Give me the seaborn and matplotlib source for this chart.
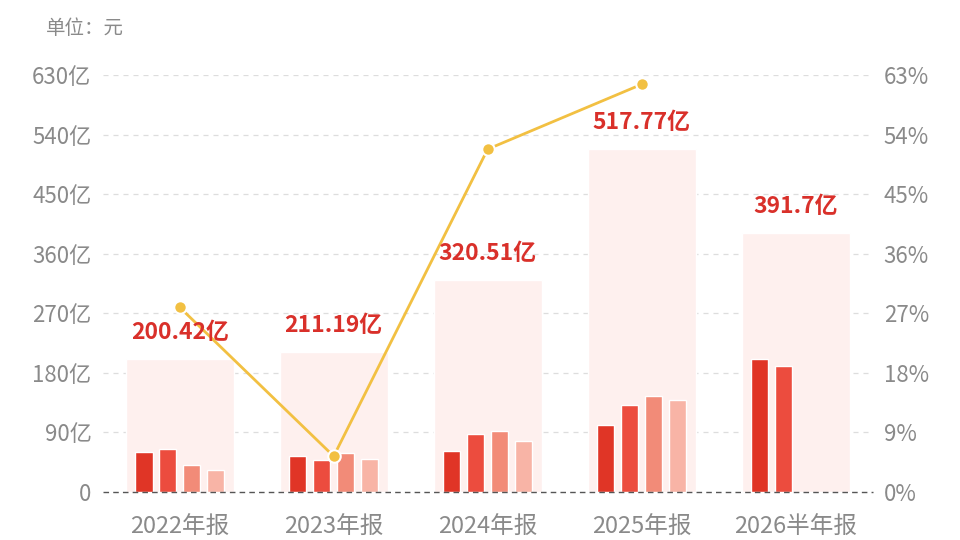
import pandas as pd
import numpy as np
import matplotlib.pyplot as plt
import seaborn as sns

# chart data (亿元 / %)
periods = ["2022年报", "2023年报", "2024年报", "2025年报", "2026半年报"]
totals = [200.42, 211.19, 320.51, 517.77, 391.7]
quarters = ["Q1", "Q2", "Q3", "Q4"]
q_values = [
    [61, 65, 41, 33],
    [54, 49, 58.5, 50],
    [62.4, 88, 92.6, 77],
    [101.7, 131, 145.5, 139],
    [200.4, 190.8, np.nan, np.nan],
]
growth_pct = [27.9, 5.4, 51.8, 61.6]
y_ticks = [0, 90, 180, 270, 360, 450, 540, 630]
pct_ticks = [0, 9, 18, 27, 36, 45, 54, 63]

sns.set_theme(style="white")
plt.rcParams['font.family'] = ['Noto Sans CJK SC', 'DejaVu Sans']

q_colors = ["#E03526", "#EC4C3E", "#F28B78", "#F8B4A6"]
grey = "#8A8A8A"
red_text = "#D9302A"
line_color = "#F2C042"

df_tot = pd.DataFrame({"period": periods, "total": totals})
rows = []
for p, vals in zip(periods, q_values):
    for q, v in zip(quarters, vals):
        rows.append({"period": p, "quarter": q, "value": v})
df_q = pd.DataFrame(rows)

fig = plt.figure(figsize=(9.6, 5.4), dpi=100)
ax = fig.add_axes([0.107, 0.089, 0.802, 0.772])

# background totals
sns.barplot(data=df_tot, x="period", y="total", color="#FEF0EE", width=0.7,
            ax=ax, zorder=1, saturation=1)
# quarterly bars
sns.barplot(data=df_q, x="period", y="value", hue="quarter", palette=q_colors,
            width=0.62, gap=0.28, ax=ax, zorder=2, saturation=1, legend=False)

ax.set_xlim(-0.5, len(periods) - 0.5)
ax.set_ylim(0, 630)
ax.set_yticks(y_ticks)
ax.set_yticklabels([f"{v}亿" if v else "0" for v in y_ticks])
ax.set_xlabel("")
ax.set_ylabel("")
for v in y_ticks[1:]:
    ax.axhline(v, color="#DDDDDD", lw=0.9, ls=(0, (4, 4)), zorder=0)
ax.axhline(0, color="#555555", lw=1.0, ls=(0, (4, 3)), zorder=6, clip_on=False)
for s in ax.spines.values():
    s.set_visible(False)
ax.tick_params(axis="y", length=0, labelsize=16, labelcolor=grey, pad=8)
ax.tick_params(axis="x", length=0, labelsize=17, labelcolor=grey, pad=17)

# growth line on right axis
ax2 = ax.twinx()
sns.lineplot(x=list(range(len(growth_pct))), y=growth_pct, ax=ax2,
             color=line_color, lw=2, marker="o", markersize=9,
             markeredgecolor="white", markeredgewidth=1.5, zorder=3)
ax2.set_ylim(0, 63)
ax2.set_yticks(pct_ticks)
ax2.set_yticklabels([f"{v}%" for v in pct_ticks])
ax2.tick_params(axis="y", length=0, labelsize=16, labelcolor=grey, pad=8)
for s in ax2.spines.values():
    s.set_visible(False)

# total labels drawn above the line
for i, t in enumerate(totals):
    ax2.text(i, t + 40, f"{t:g}亿", ha="center", va="center", fontsize=16.5,
             fontweight="bold", color=red_text, zorder=10, transform=ax.transData)

fig.text(0.048, 0.948, "单位：元", fontsize=14, color=grey, ha="left", va="center")

fig.savefig("out.png", dpi=100)
